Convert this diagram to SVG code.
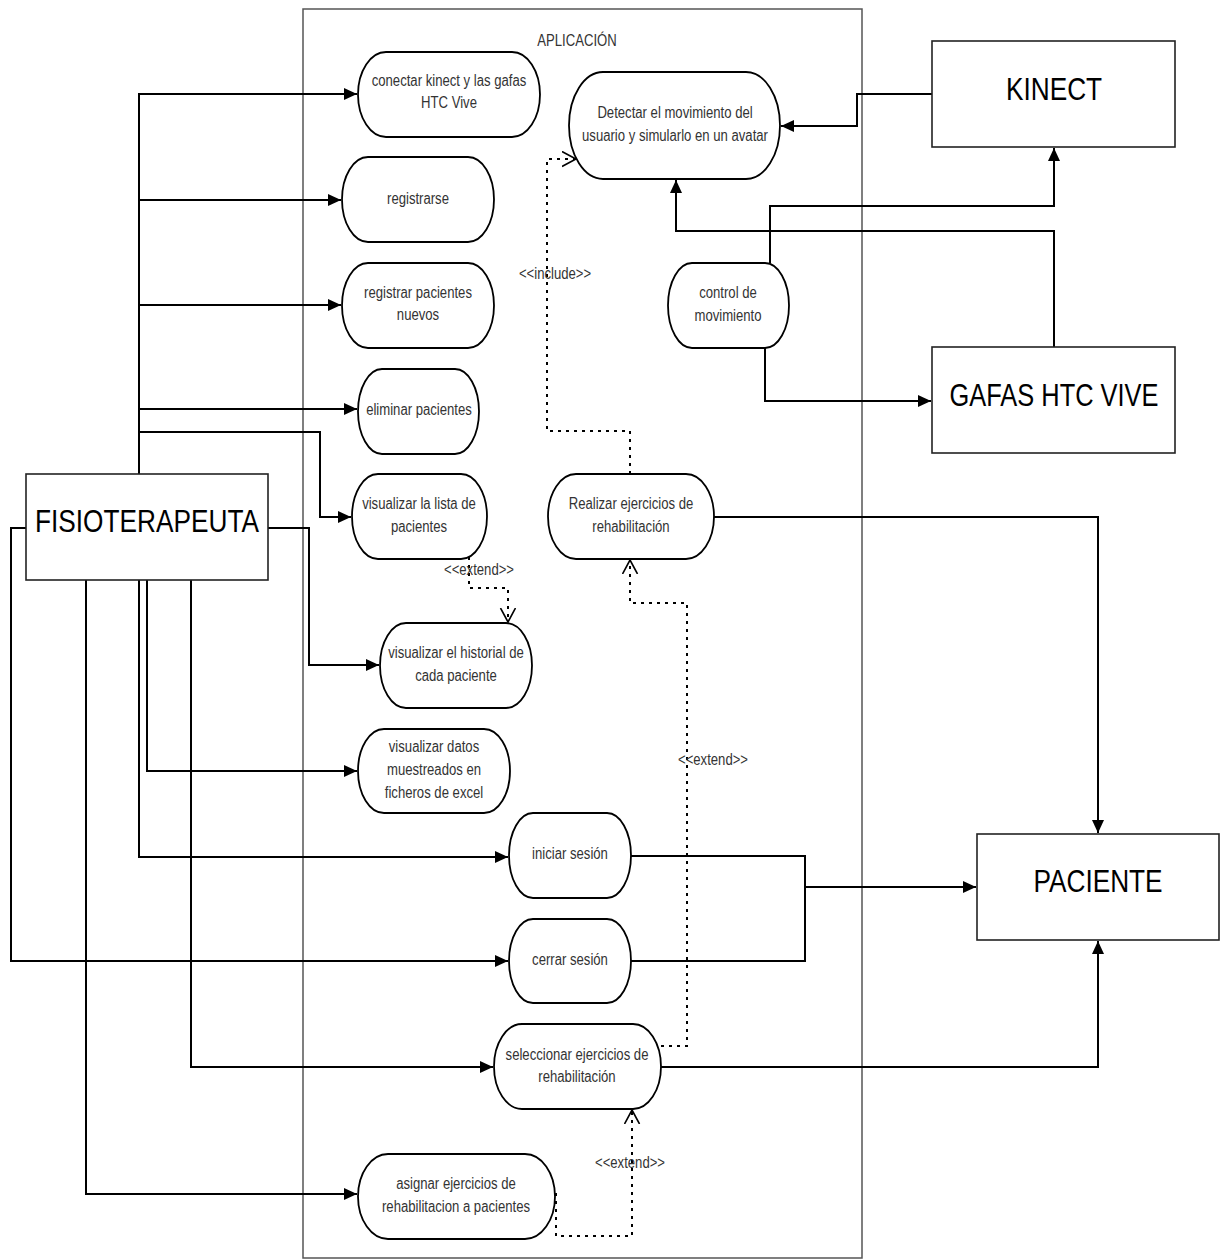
<svg xmlns="http://www.w3.org/2000/svg" width="1223" height="1260" viewBox="0 0 1223 1260">
<style>
.uc{fill:#fff;stroke:#000;stroke-width:1.8}
.actor{fill:#fff;stroke:#222;stroke-width:1.6}
.t{font-family:'Liberation Sans','Arial',sans-serif;font-size:16px;fill:#333;text-anchor:middle}
.big{font-family:'Liberation Sans','Arial',sans-serif;font-size:32px;fill:#000;text-anchor:middle}
.c{fill:none;stroke:#000;stroke-width:2}
.cs{fill:none;stroke:#000;stroke-width:2;marker-end:url(#fa)}
.d{fill:none;stroke:#000;stroke-width:2;stroke-dasharray:3 5;marker-end:url(#oa)}
</style>
<defs>
<marker id="fa" markerUnits="userSpaceOnUse" markerWidth="14" markerHeight="12" refX="13" refY="6" orient="auto"><path d="M0,0 L13,6 L0,12 z" fill="#000"/></marker>
<marker id="oa" markerUnits="userSpaceOnUse" markerWidth="16" markerHeight="18" refX="14" refY="8" orient="auto"><path d="M0,0.5 L14,8 L0,15.5" fill="none" stroke="#000" stroke-width="1.6"/></marker>
</defs>
<rect width="1223" height="1260" fill="#fff"/>
<g id="system">
<rect x="303" y="9" width="559" height="1249" fill="none" stroke="#555" stroke-width="1.5"/>
<text class="t" transform="matrix(0.82 0 0 1 577 0)" x="0" y="46">APLICACIÓN</text>
</g>
<g id="connectors">
<path class="cs" d="M139,474 V94 H357"/>
<path class="cs" d="M139,200 H341"/>
<path class="cs" d="M139,305 H341"/>
<path class="cs" d="M139,409 H357"/>
<path class="cs" d="M139,432 H320 V517 H351"/>
<path class="cs" d="M268,528 H309 V665 H379"/>
<path class="cs" d="M26,528 H11 V961 H508"/>
<path class="cs" d="M86,580 V1194 H357"/>
<path class="cs" d="M139,580 V857 H508"/>
<path class="cs" d="M147,580 V771 H357"/>
<path class="cs" d="M191,580 V1067 H493"/>
<path class="cs" d="M932,94 H857 V126 H781"/>
<path class="cs" d="M770,263 V206 H1054 V148"/>
<path class="cs" d="M1054,347 V231 H676 V180"/>
<path class="cs" d="M765,348 V401 H931"/>
<path class="cs" d="M714,517 H1098 V833"/>
<path class="c" d="M631,856 H805 V961 H631"/>
<path class="cs" d="M805,887 H976"/>
<path class="cs" d="M661,1067 H1098 V941"/>
<path class="d" d="M630,474 V431 H547 V159 H576"/>
<path class="d" d="M469,557 V588 H508 V622"/>
<path class="d" d="M661,1046 H687 V603 H630 V560"/>
<path class="d" d="M556,1193 V1236 H632 V1110"/>
<text class="t" transform="matrix(0.82 0 0 1 555 0)" x="0" y="279">&lt;&lt;include&gt;&gt;</text>
<text class="t" transform="matrix(0.82 0 0 1 479 0)" x="0" y="575">&lt;&lt;extend&gt;&gt;</text>
<text class="t" transform="matrix(0.82 0 0 1 713 0)" x="0" y="765">&lt;&lt;extend&gt;&gt;</text>
<text class="t" transform="matrix(0.82 0 0 1 630 0)" x="0" y="1168">&lt;&lt;extend&gt;&gt;</text>
</g>
<g id="uc-conectar"><rect class="uc" x="358" y="52" width="182" height="85" rx="28" ry="42.5"/><text class="t" transform="matrix(0.82 0 0 1 449 0)" x="0" y="86">conectar kinect y las gafas</text><text class="t" transform="matrix(0.82 0 0 1 449 0)" x="0" y="108">HTC Vive</text></g>
<g id="uc-registrarse"><rect class="uc" x="342" y="157" width="152" height="85" rx="26" ry="42.5"/><text class="t" transform="matrix(0.82 0 0 1 418 0)" x="0" y="204">registrarse</text></g>
<g id="uc-registrar"><rect class="uc" x="342" y="263" width="152" height="85" rx="26" ry="42.5"/><text class="t" transform="matrix(0.82 0 0 1 418 0)" x="0" y="298">registrar pacientes</text><text class="t" transform="matrix(0.82 0 0 1 418 0)" x="0" y="320">nuevos</text></g>
<g id="uc-eliminar"><rect class="uc" x="358" y="369" width="121" height="85" rx="24" ry="42.5"/><text class="t" transform="matrix(0.82 0 0 1 419 0)" x="0" y="415">eliminar pacientes</text></g>
<g id="uc-lista"><rect class="uc" x="352" y="474" width="135" height="85" rx="26" ry="42.5"/><text class="t" transform="matrix(0.82 0 0 1 419 0)" x="0" y="509">visualizar la lista de</text><text class="t" transform="matrix(0.82 0 0 1 419 0)" x="0" y="532">pacientes</text></g>
<g id="uc-historial"><rect class="uc" x="380" y="623" width="152" height="85" rx="26" ry="42.5"/><text class="t" transform="matrix(0.82 0 0 1 456 0)" x="0" y="658">visualizar el historial de</text><text class="t" transform="matrix(0.82 0 0 1 456 0)" x="0" y="681">cada paciente</text></g>
<g id="uc-datos"><rect class="uc" x="358" y="729" width="152" height="84" rx="26" ry="42"/><text class="t" transform="matrix(0.82 0 0 1 434 0)" x="0" y="752">visualizar datos</text><text class="t" transform="matrix(0.82 0 0 1 434 0)" x="0" y="775">muestreados en</text><text class="t" transform="matrix(0.82 0 0 1 434 0)" x="0" y="798">ficheros de excel</text></g>
<g id="uc-iniciar"><rect class="uc" x="509" y="813" width="122" height="85" rx="24" ry="42.5"/><text class="t" transform="matrix(0.82 0 0 1 570 0)" x="0" y="859">iniciar sesión</text></g>
<g id="uc-cerrar"><rect class="uc" x="509" y="919" width="122" height="84" rx="24" ry="42"/><text class="t" transform="matrix(0.82 0 0 1 570 0)" x="0" y="965">cerrar sesión</text></g>
<g id="uc-seleccionar"><rect class="uc" x="494" y="1024" width="167" height="85" rx="28" ry="42.5"/><text class="t" transform="matrix(0.82 0 0 1 577 0)" x="0" y="1060">seleccionar ejercicios de</text><text class="t" transform="matrix(0.82 0 0 1 577 0)" x="0" y="1082">rehabilitación</text></g>
<g id="uc-asignar"><rect class="uc" x="358" y="1154" width="197" height="85" rx="30" ry="42.5"/><text class="t" transform="matrix(0.82 0 0 1 456 0)" x="0" y="1189">asignar ejercicios de</text><text class="t" transform="matrix(0.82 0 0 1 456 0)" x="0" y="1212">rehabilitacion a pacientes</text></g>
<g id="uc-detectar"><rect class="uc" x="569" y="72" width="211" height="107" rx="34" ry="53.5"/><text class="t" transform="matrix(0.82 0 0 1 675 0)" x="0" y="118">Detectar el movimiento del</text><text class="t" transform="matrix(0.82 0 0 1 675 0)" x="0" y="141">usuario y simularlo en un avatar</text></g>
<g id="uc-control"><rect class="uc" x="668" y="263" width="121" height="85" rx="24" ry="42.5"/><text class="t" transform="matrix(0.82 0 0 1 728 0)" x="0" y="298">control de</text><text class="t" transform="matrix(0.82 0 0 1 728 0)" x="0" y="321">movimiento</text></g>
<g id="uc-realizar"><rect class="uc" x="548" y="474" width="166" height="85" rx="28" ry="42.5"/><text class="t" transform="matrix(0.82 0 0 1 631 0)" x="0" y="509">Realizar ejercicios de</text><text class="t" transform="matrix(0.82 0 0 1 631 0)" x="0" y="532">rehabilitación</text></g>
<g id="actor-fisio"><rect class="actor" x="26" y="474" width="242" height="106"/><text class="big" transform="matrix(0.82 0 0 1 147 0)" x="0" y="532">FISIOTERAPEUTA</text></g>
<g id="actor-kinect"><rect class="actor" x="932" y="41" width="243" height="106"/><text class="big" transform="matrix(0.82 0 0 1 1054 0)" x="0" y="100">KINECT</text></g>
<g id="actor-gafas"><rect class="actor" x="932" y="347" width="243" height="106"/><text class="big" transform="matrix(0.82 0 0 1 1054 0)" x="0" y="406" style="font-size:31px">GAFAS HTC VIVE</text></g>
<g id="actor-paciente"><rect class="actor" x="977" y="834" width="242" height="106"/><text class="big" transform="matrix(0.82 0 0 1 1098 0)" x="0" y="892">PACIENTE</text></g>
</svg>
